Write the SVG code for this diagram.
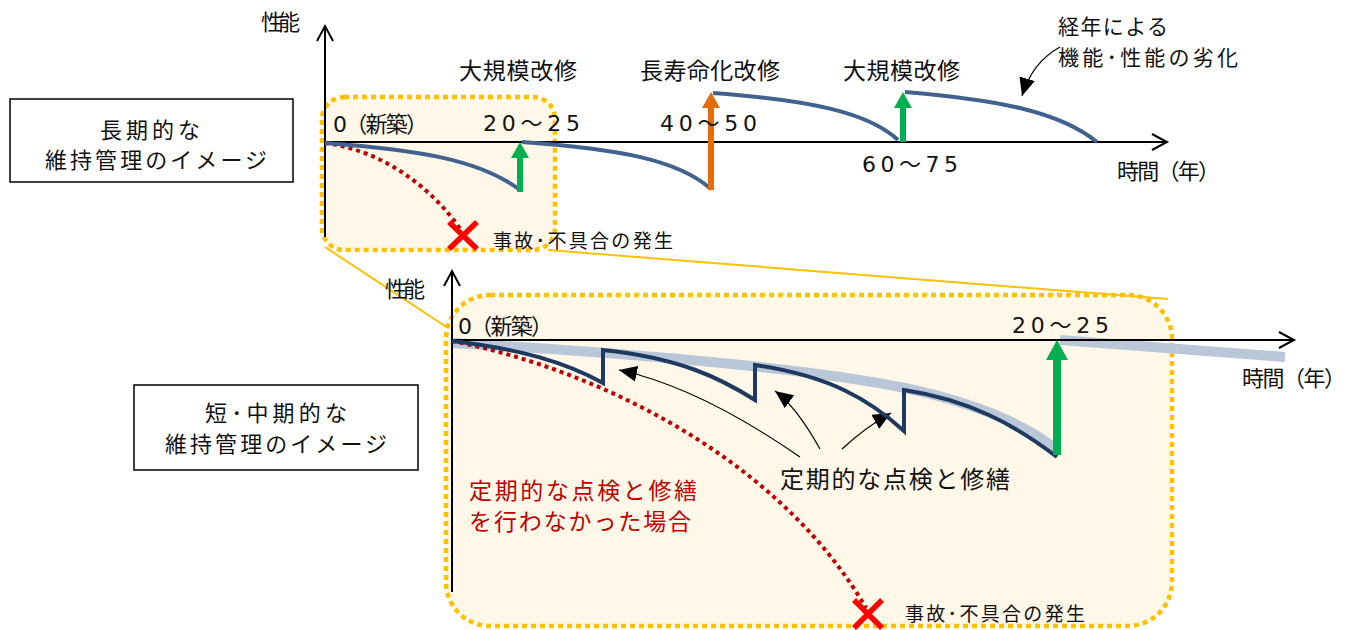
<svg xmlns="http://www.w3.org/2000/svg" width="1355" height="630" viewBox="0 0 1355 630">
<defs>
<style>
text{font-family:"Noto Sans CJK JP","Noto Sans",sans-serif;fill:#111;}
.num{font-family:"DejaVu Sans","Noto Sans CJK JP",sans-serif;}
.ax{stroke:#000;stroke-width:2;fill:none;}
.zone{fill:#FFF8E8;stroke:#FFC000;stroke-width:4.5;stroke-dasharray:5 4;}
.link{stroke:#FFC000;stroke-width:2;fill:none;}
.perf{stroke:#41618F;stroke-width:4;fill:none;stroke-linejoin:miter;}
.saw{stroke:#1F3A60;stroke-width:4;fill:none;stroke-linejoin:miter;}
.band{stroke:#B9C7D9;stroke-width:10;fill:none;}
.fail{stroke:#C00000;stroke-width:4;stroke-dasharray:4 4;fill:none;}
.cross{stroke:#FF0000;stroke-width:5.5;}
.ptr{stroke:#000;stroke-width:1.2;fill:none;marker-end:url(#head);}
.box{fill:#fff;stroke:#000;stroke-width:1.5;}
.red{fill:#C00000;}
</style>
<marker id="head" markerUnits="userSpaceOnUse" markerWidth="18" markerHeight="16" viewBox="0 0 18 16" refX="18" refY="8" orient="auto">
<path d="M0,0 L18,8 L0,16 z" fill="#000"/>
</marker>
</defs>

<g id="zone-top"><rect class="zone" x="322" y="97" width="233" height="153" rx="22" ry="22"/></g>
<g id="zone-bottom"><rect class="zone" x="446" y="295" width="726" height="331" rx="44" ry="44"/></g>

<g id="connectors">
<line class="link" x1="325" y1="247" x2="448" y2="328"/>
<line class="link" x1="548" y1="250" x2="1168" y2="299"/>
<path class="ptr" d="M1060,47 C1040,58 1028,76 1022,96"/>
<path class="ptr" d="M800,457 C735,412 675,382 619,370"/>
<path class="ptr" d="M820,449 C806,424 790,402 775,391"/>
<path class="ptr" d="M842,449 C858,434 875,422 891,413"/>
</g>

<g id="chart-top">
<path class="ax" d="M325,237 V26 M317,41 L325,26 L333,41"/>
<path class="ax" d="M325,142 H1167 M1152,134 L1167,142 L1152,150"/>
<path class="fail" d="M325,143 C380,150 430,185 461,230"/>
<path class="perf" d="M325,143 C420,150 480,160 520,190"/>
<path class="perf" d="M522,142 C617,149 677,159 711,189"/>
<path class="perf" d="M713,93 C808,100 868,112 898,140"/>
<path class="perf" d="M905,92 C1000,100 1060,112 1097,142"/>
<g id="arrow-green-1"><rect x="517" y="156" width="6" height="36" fill="#00B050"/><path d="M511,158 L520,142 L529,158 z" fill="#00B050"/></g>
<g id="arrow-orange"><rect x="708" y="106" width="6" height="84" fill="#E46C0A"/><path d="M702,108 L711,92 L720,108 z" fill="#E46C0A"/></g>
<g id="arrow-green-2"><rect x="900" y="106" width="6" height="36" fill="#00B050"/><path d="M894,108 L903,92 L912,108 z" fill="#00B050"/></g>
<g id="cross-top"><line class="cross" x1="449" y1="222" x2="477" y2="249"/><line class="cross" x1="477" y1="222" x2="449" y2="249"/></g>
</g>

<g id="chart-bottom">
<path class="band" d="M452,343 C560,349 790,364 905,388 C975,403 1025,425 1055,448"/>
<path class="band" d="M1060,340 L1285,357"/>
<path class="ax" d="M452,592 V271 M444,286 L452,271 L460,286"/>
<path class="ax" d="M452,340 H1294 M1279,332 L1294,340 L1279,348"/>
<path class="fail" d="M452,341 C600,370 780,460 866,608"/>
<path class="saw" d="M452,341 C520,349 565,362 603,383 L603,350 C680,358 720,378 755,400 L755,365 C830,376 870,400 904,431 L904,390 C970,400 1015,425 1057,457"/>
<g id="arrow-green-3"><rect x="1053" y="358" width="8" height="97" fill="#00B050"/><path d="M1046,360 L1057,340 L1068,360 z" fill="#00B050"/></g>
<g id="cross-bottom"><line class="cross" x1="854" y1="600" x2="882" y2="628"/><line class="cross" x1="882" y1="600" x2="854" y2="628"/></g>
</g>

<g id="labels-top">
<text x="261" y="30" font-size="22" textLength="39" lengthAdjust="spacing">性能</text>
<text x="459" y="79" font-size="23" textLength="118" lengthAdjust="spacing">大規模改修</text>
<text x="640" y="79" font-size="23" textLength="140" lengthAdjust="spacing">長寿命化改修</text>
<text x="843" y="79" font-size="23" textLength="117" lengthAdjust="spacing">大規模改修</text>
<text x="1058" y="34" font-size="21" textLength="110" lengthAdjust="spacing">経年による</text>
<text x="1058" y="65" font-size="21" textLength="180" lengthAdjust="spacing">機能･性能の劣化</text>
<text class="num" x="333" y="132" font-size="22" textLength="95" lengthAdjust="spacing">0（新築）</text>
<text class="num" x="483" y="131" font-size="22" textLength="97" lengthAdjust="spacing">20～25</text>
<text class="num" x="660" y="131" font-size="22" textLength="97" lengthAdjust="spacing">40～50</text>
<text class="num" x="862" y="172" font-size="22" textLength="96" lengthAdjust="spacing">60～75</text>
<text x="1117" y="179" font-size="22" textLength="103" lengthAdjust="spacing">時間（年）</text>
<text x="493" y="248" font-size="19" textLength="180" lengthAdjust="spacing">事故･不具合の発生</text>
</g>

<g id="labels-bottom">
<text x="385" y="297" font-size="22" textLength="40" lengthAdjust="spacing">性能</text>
<text class="num" x="458" y="334" font-size="22" textLength="95" lengthAdjust="spacing">0（新築）</text>
<text class="num" x="1012" y="333" font-size="22" textLength="97" lengthAdjust="spacing">20～25</text>
<text x="1242" y="386" font-size="22" textLength="104" lengthAdjust="spacing">時間（年）</text>
<text x="780" y="488" font-size="24" textLength="230" lengthAdjust="spacing">定期的な点検と修繕</text>
<text class="red" x="469" y="499" font-size="23" textLength="228" lengthAdjust="spacing">定期的な点検と修繕</text>
<text class="red" x="469" y="530" font-size="23" textLength="222" lengthAdjust="spacing">を行わなかった場合</text>
<text x="905" y="621" font-size="19" textLength="180" lengthAdjust="spacing">事故･不具合の発生</text>
</g>

<g id="box-long">
<rect class="box" x="10" y="99" width="283" height="83"/>
<text x="100" y="138" font-size="22" textLength="100" lengthAdjust="spacing">長期的な</text>
<text x="45" y="168" font-size="22" textLength="222" lengthAdjust="spacing">維持管理のイメージ</text>
</g>

<g id="box-short">
<rect class="box" x="134" y="385" width="284" height="85"/>
<text x="205" y="421" font-size="22" textLength="142" lengthAdjust="spacing">短･中期的な</text>
<text x="165" y="452" font-size="22" textLength="222" lengthAdjust="spacing">維持管理のイメージ</text>
</g>
</svg>
